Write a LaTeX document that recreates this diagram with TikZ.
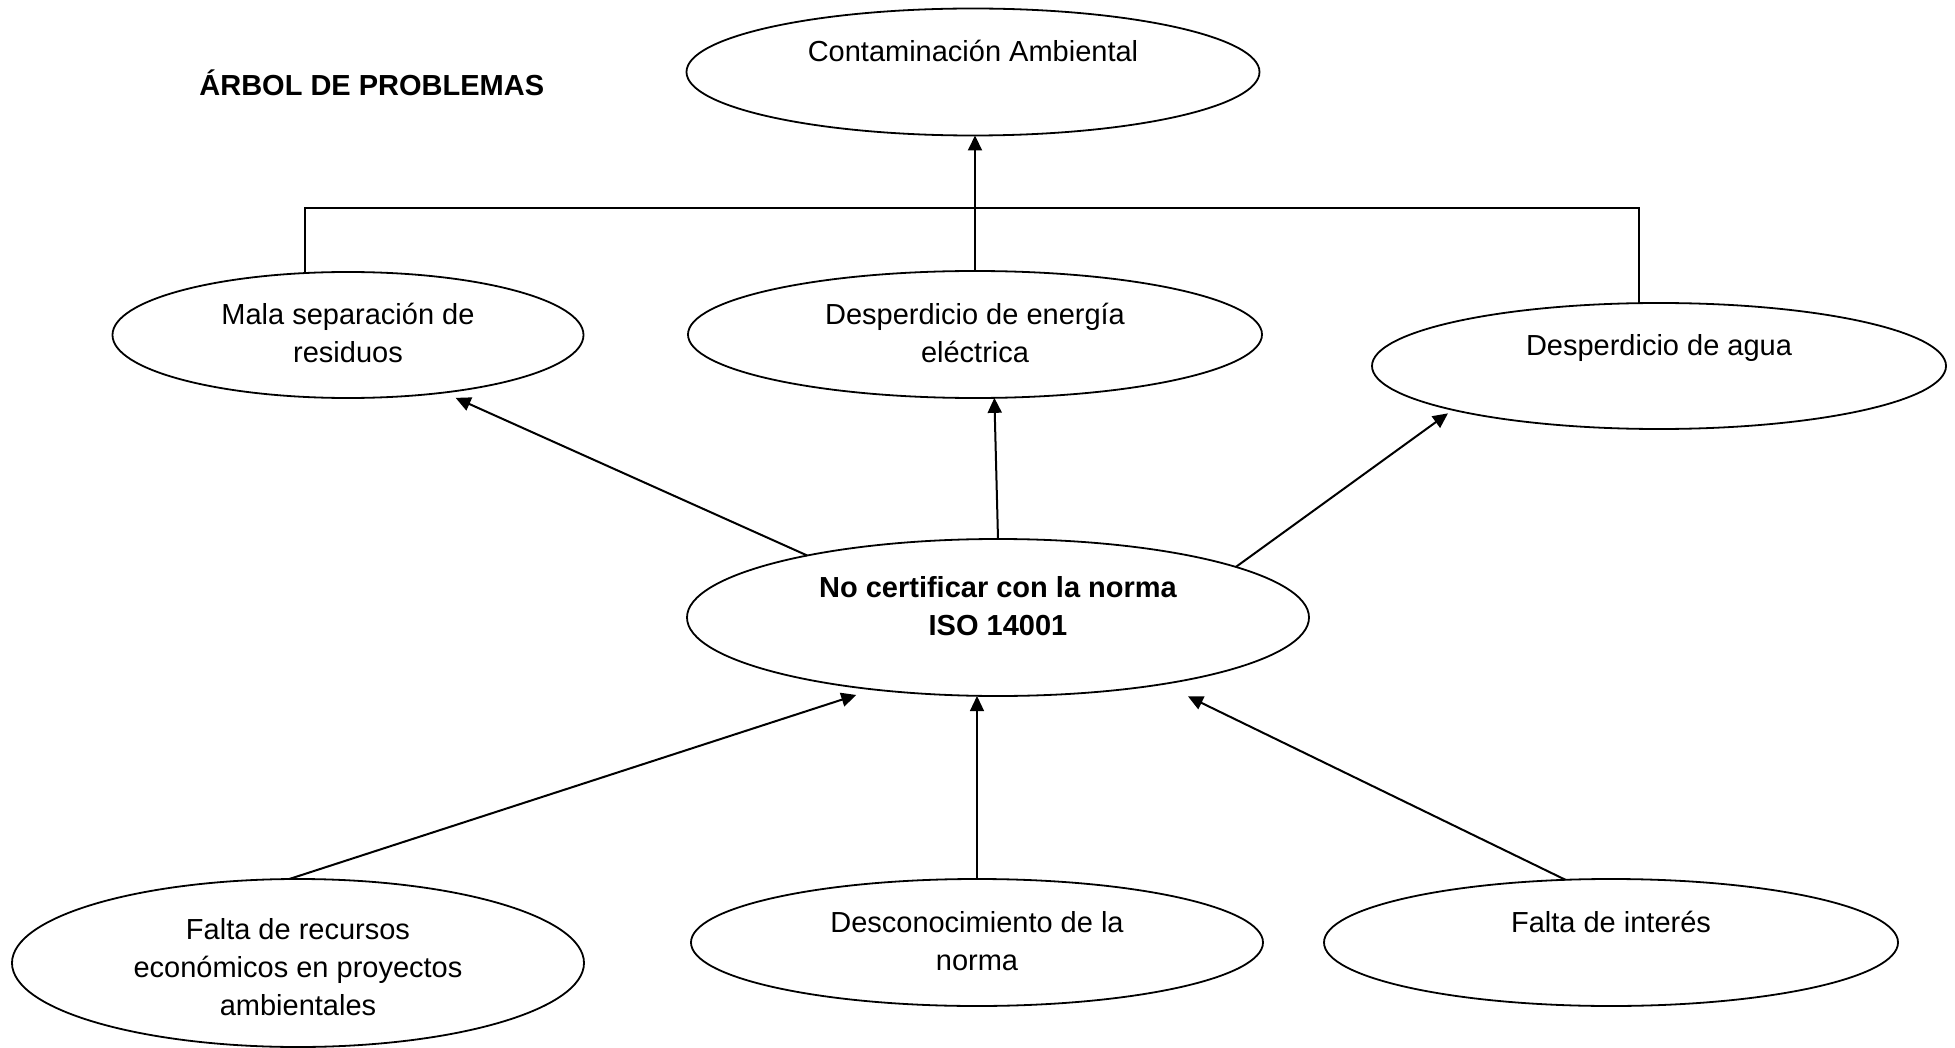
\documentclass[tikz,border=0pt]{standalone}
\usepackage{fontspec}
\setmainfont{Liberation Sans}
\usetikzlibrary{shapes.geometric,arrows.meta}
\begin{document}
\begin{tikzpicture}[x=0.5pt,y=-0.5pt,
  ell/.style={draw, ellipse, inner sep=0pt, outer sep=0pt, line width=0.9pt},
  txt/.style={align=center, inner sep=0pt, font=\fontsize{14.5}{19}\selectfont},
  txtb/.style={align=center, inner sep=0pt, font=\fontsize{14.5}{19}\selectfont\bfseries},
  arr/.style={-{Triangle[length=7.5pt,width=7pt]}, line width=1pt},
  ln/.style={line width=1pt}]
\useasboundingbox (0,0) rectangle (1955,1048);

% ellipses
\node[ell, minimum width=286.5pt, minimum height=63.5pt] (cont) at (973,72) {};
\node[ell, minimum width=235.5pt, minimum height=63pt]   (mala) at (348,335) {};
\node[ell, minimum width=287pt,   minimum height=63.5pt] (ener) at (975,334.5) {};
\node[ell, minimum width=287pt,   minimum height=63pt]   (agua) at (1659,366) {};
\node[ell, minimum width=311pt,   minimum height=78.5pt] (cert) at (998,617.5) {};
\node[ell, minimum width=286pt,   minimum height=84pt]   (rec)  at (298,963) {};
\node[ell, minimum width=286pt,   minimum height=63.5pt] (desc) at (977,942.5) {};
\node[ell, minimum width=287pt,   minimum height=63.5pt] (inte) at (1611,942.5) {};

% texts
\node[txtb, anchor=west] (title) at (199,88.4) {\strut ÁRBOL DE PROBLEMAS};
\node[txt] (contT) at (973,54.1) {\strut Contaminación Ambiental};
\node[txt] (malaT) at (348,336.4) {\strut Mala separación de\\\strut residuos};
\node[txt] (enerT) at (975,336.4) {\strut Desperdicio de energía\\\strut eléctrica};
\node[txt] (aguaT) at (1659,348.4) {\strut Desperdicio de agua};
\node[txtb] (certT) at (998,608.4) {\strut No certificar con la norma\\\strut ISO 14001};
\node[txt] (recT) at (298,969.4) {\strut Falta de recursos\\\strut económicos en proyectos\\\strut ambientales};
\node[txt] (descT) at (977,944) {\strut Desconocimiento de la\\\strut norma};
\node[txt] (inteT) at (1611,925) {\strut Falta de interés};

% tree connector at top
\coordinate (hub) at (977,208);
\draw[ln] (mala.125) |- (agua.108 |- hub) -- (agua.108);
\draw[arr] (ener.north) -- (ener.north |- cont.south);

% effects
\draw[arr, shorten >=6.5pt] (cert.162) -- (mala.-31);
\draw[arr] (cert.north) -- (ener.-73);
\draw[arr, shorten >=3pt] (cert.12) -- (agua.192);

% causes
\draw[arr, shorten >=9pt] (rec.96) -- (cert.210);
\draw[arr, line width=0.6pt] (desc.north) -- (desc.north |- cert.south);
\draw[arr, shorten >=14pt] (inte.126) -- (cert.338);
\end{tikzpicture}
\end{document}
